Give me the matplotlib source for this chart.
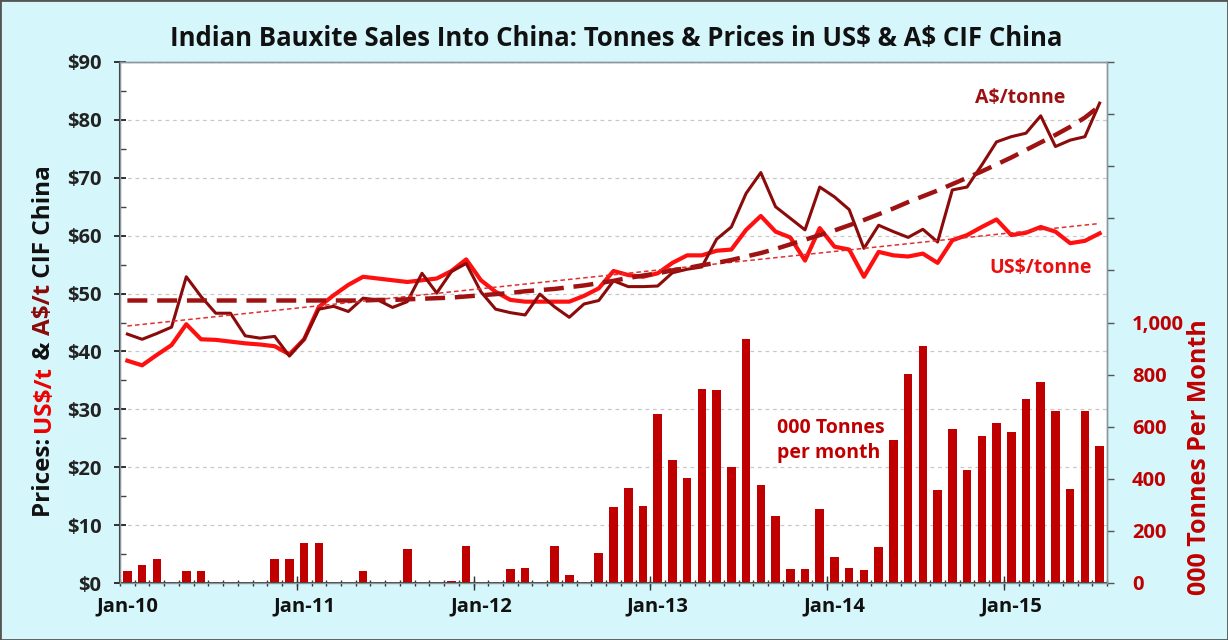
import numpy as np
import matplotlib
matplotlib.use("Agg")
import matplotlib.pyplot as plt
from matplotlib.ticker import FixedLocator, FuncFormatter

# ---------------- data ----------------
months = [f"{m}-{y}" for y in range(10, 16) for m in
          ["Jan", "Feb", "Mar", "Apr", "May", "Jun", "Jul", "Aug", "Sep", "Oct", "Nov", "Dec"]][:67]

tonnes = [47, 69, 91, 0, 47, 47, 0, 0, 0, 0, 91, 91,
          154, 154, 0, 0, 47, 0, 0, 130, 0, 0, 9, 143,
          0, 0, 52, 56, 0, 143, 31, 0, 116, 291, 363, 295,
          650, 471, 402, 746, 739, 446, 937, 378, 258, 55, 55, 283,
          101, 59, 51, 137, 550, 803, 910, 356, 592, 435, 564, 613,
          581, 706, 771, 660, 360, 660, 525]

usd_price = [38.4, 37.6, 39.4, 41.1, 44.7, 42.1, 42.0, 41.7, 41.4, 41.2, 40.9, 39.5,
             42.1, 47.7, 49.7, 51.5, 52.9, 52.6, 52.3, 52.0, 52.3, 52.6, 53.9, 55.9,
             52.3, 50.3, 48.9, 48.6, 48.6, 48.6, 48.6, 49.6, 50.9, 53.9, 53.2, 52.9,
             53.5, 55.3, 56.6, 56.6, 57.4, 57.6, 61.0, 63.4, 60.7, 59.7, 55.7, 61.3,
             58.1, 57.6, 52.9, 57.2, 56.6, 56.4, 56.9, 55.3, 59.2, 60.1, 61.5, 62.8,
             60.1, 60.5, 61.5, 60.7, 58.7, 59.1, 60.4]

aud_price = [43.0, 42.1, 43.1, 44.2, 52.9, 49.5, 46.6, 46.6, 42.7, 42.3, 42.6, 39.2,
             42.1, 47.3, 47.8, 46.9, 49.2, 48.9, 47.6, 48.6, 53.5, 50.1, 53.8, 55.2,
             50.3, 47.3, 46.7, 46.3, 49.9, 47.7, 45.9, 48.2, 48.8, 52.2, 51.2, 51.2,
             51.3, 53.6, 54.2, 54.6, 59.4, 61.5, 67.3, 70.9, 65.0, 63.0, 61.0, 68.4,
             66.7, 64.5, 57.8, 61.8, 60.7, 59.7, 61.1, 58.9, 67.9, 68.4, 72.2, 76.2,
             77.1, 77.7, 80.7, 75.4, 76.5, 77.1, 82.9]

# A$ polynomial-style trend (one value per month)
aud_trend = [48.8] * 17 + [
    48.9, 48.9, 49.0, 49.1, 49.2, 49.3, 49.5, 49.7, 49.9, 50.1, 50.4, 50.6,
    50.8, 51.1, 51.4, 51.8, 52.2, 52.7, 53.1, 53.5, 54.0, 54.4, 54.9, 55.3,
    55.8, 56.4, 57.0, 57.7, 58.5, 59.3, 60.1, 60.9, 61.8, 62.7, 63.7, 64.7,
    65.8, 66.8, 67.8, 68.9, 70.0, 71.1, 72.3, 73.5, 74.8, 76.1, 77.4, 78.8,
    80.4, 82.4]

# US$ linear trend: values read at first and last month
usd_trend_ends = [44.4, 62.1]

year_labels = ["Jan-10", "Jan-11", "Jan-12", "Jan-13", "Jan-14", "Jan-15"]
price_ticks = [0, 10, 20, 30, 40, 50, 60, 70, 80, 90]
tonne_ticks = [0, 200, 400, 600, 800, 1000, 1200, 1400, 1600, 1800, 2000]

assert len(months) == len(tonnes) == len(usd_price) == len(aud_price) == len(aud_trend) == 67

# ---------------- style ----------------
BG = "#d5f6fb"
BAR = "#c00000"
USD = "#ff1010"
AUD = "#8b0a0a"
AUD_TR = "#a01212"
plt.rcParams["font.family"] = ["Open Sans", "DejaVu Sans"]
plt.rcParams["font.weight"] = "bold"

fig = plt.figure(figsize=(12.28, 6.40), dpi=100, facecolor=BG)
ax = fig.add_axes([120 / 1228, 57 / 640, 987 / 1228, 521 / 640])
ax2 = ax.twinx()
ax.set_facecolor("white")

x = np.arange(len(months))
n = len(months)

ax2.set_ylim(0, 2000)
ax.set_ylim(0, 90)
ax.set_xlim(-0.5, n - 0.5)
ax2.set_xlim(-0.5, n - 0.5)
# bars drawn on ax using the right-hand (tonnes) scale
ax.bar(x, tonnes, width=0.58, color=BAR, transform=ax2.transData, zorder=1)

# price lines
ax.plot(x, usd_price, color=USD, lw=3.0, solid_joinstyle="round", zorder=4)
ax.plot(x, aud_price, color=AUD, lw=2.2, solid_joinstyle="round", zorder=5)
# trend lines
ax.plot([x[0], x[-1]], usd_trend_ends, color="#e03030", lw=1.1, dashes=(3, 2), zorder=6)
ax.plot(x, aud_trend, color=AUD_TR, lw=3.2, dashes=(4.5, 2.2), zorder=6)

# grid
ax.set_axisbelow(True)
ax.yaxis.grid(True, color="#c8c8c8", lw=0.9, dashes=(3, 3))

TICK_FS = 14.5
# left axis
ax.yaxis.set_major_locator(FixedLocator(price_ticks))
ax.yaxis.set_major_formatter(FuncFormatter(lambda v, p: f"${v:.0f}"))
ax.yaxis.set_minor_locator(FixedLocator([t + 5 for t in price_ticks[:-1]]))
ax.tick_params(axis="y", which="major", direction="inout", length=9, width=1.3,
               colors="#222222", labelsize=TICK_FS, pad=9)
ax.tick_params(axis="y", which="minor", direction="in", length=4, width=1.0, color="#444444")

# right axis
ax2.yaxis.set_major_locator(FixedLocator(tonne_ticks))
ax2.yaxis.set_major_formatter(FuncFormatter(lambda v, p: f"{v:,.0f}" if v <= 1000 else ""))
ax2.tick_params(axis="y", direction="out", length=5, width=1.0, color="#555555",
                labelcolor=BAR, labelsize=TICK_FS, pad=13)

# x axis
ax.xaxis.set_major_locator(FixedLocator(x[::12]))
ax.set_xticklabels(year_labels)
ax.xaxis.set_minor_locator(FixedLocator(np.arange(-0.5, n, 1.0)))
ax.tick_params(axis="x", which="major", length=0, labelsize=TICK_FS, pad=10, colors="#111111")
ax.tick_params(axis="x", which="minor", direction="inout", length=5, width=1.0, color="#333333")
sec = ax.secondary_xaxis("bottom")
sec.xaxis.set_major_locator(FixedLocator(np.arange(11.5, n, 12)))
sec.xaxis.set_major_formatter(FuncFormatter(lambda v, p: ""))
sec.tick_params(axis="x", direction="inout", length=10, width=1.0, color="#333333")
sec.spines["bottom"].set_visible(False)

for a in (ax, ax2):
    for s in a.spines.values():
        s.set_color("#8a979d")
        s.set_linewidth(1.0)
ax.spines["left"].set_color("#333333")
ax.spines["left"].set_linewidth(1.5)
ax.spines["bottom"].set_color("#333333")
ax.spines["bottom"].set_linewidth(1.3)

# title
fig.text(0.502, 0.94, r"Indian Bauxite Sales Into China: Tonnes & Prices in US\$ & A\$ CIF China",
         ha="center", va="center", fontsize=18.5, fontweight="bold", color="#111111")

# multi-colour left y label (reads bottom to top)
pieces = [("Prices: ", "#111111"), ("US$/t", "#ee0000"), (" & ", "#111111"),
          ("A$/t", AUD), (" CIF China", "#111111")]
LBL_X, LBL_Y0, LBL_FS = 0.036, 0.192, 17.5
label_texts = [fig.text(LBL_X, LBL_Y0, txt, rotation=90, ha="center", va="bottom",
                        fontsize=LBL_FS, fontweight="bold", color=col)
               for txt, col in pieces]
fig.canvas.draw()
renderer = fig.canvas.get_renderer()
y_cur = LBL_Y0
for t in label_texts:
    t.set_position((LBL_X, y_cur))
    y_cur += t.get_window_extent(renderer).height / fig.bbox.height

fig.text(0.977, 0.286, "000 Tonnes Per Month", rotation=90, ha="center", va="center",
         fontsize=18, fontweight="bold", color=BAR)

# in-plot annotations
ax.text(0.912, 0.931, "A$/tonne", transform=ax.transAxes, ha="center", va="center",
        fontsize=14, fontweight="bold", color="#9b1010")
ax.text(0.933, 0.605, "US$/tonne", transform=ax.transAxes, ha="center", va="center",
        fontsize=14, fontweight="bold", color="#e81010")
ax.text(0.666, 0.274, "000 Tonnes\nper month", transform=ax.transAxes, ha="left", va="center",
        fontsize=14, fontweight="bold", color="#c00000", linespacing=1.35)

border = plt.Rectangle((0, 0), 1, 1, transform=fig.transFigure, fill=False,
                       edgecolor="#555555", lw=2.0)
fig.patches.append(border)

fig.savefig("out.png", dpi=100, facecolor=BG)
